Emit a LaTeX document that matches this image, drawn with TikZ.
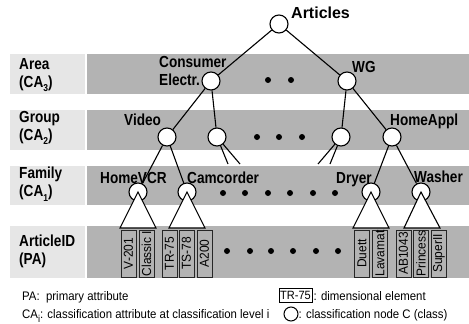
\documentclass[tikz,border=0pt]{standalone}
\usepackage{fontspec}
\setmainfont{Liberation Sans}
\newfontfamily\nfont[FakeStretch=0.85]{Liberation Sans}
\newfontfamily\mfont[FakeStretch=0.92]{Liberation Sans}
\newcommand\mysub[1]{\raisebox{-0.3em}{\fontsize{10}{10}\selectfont #1}}
\definecolor{bandgray}{HTML}{B3B3B3}
\definecolor{lblgray}{HTML}{E6E6E6}
\begin{document}
\begin{tikzpicture}[x=1pt,y=-1pt,
 cnode/.style={circle,draw,fill=white,minimum size=18pt,inner sep=0pt,line width=1.1pt},
 edge/.style={line width=1.1pt},
 lbl/.style={font=\nfont\bfseries\fontsize{16}{18}\selectfont,inner sep=0pt,anchor=base west},
 side/.style={font=\nfont\bfseries\fontsize{16}{18}\selectfont,inner sep=0pt,anchor=west,align=left},
 elem/.style={draw=black!85,fill=bandgray,rotate=90,minimum width=47pt,minimum height=15pt,inner sep=0pt,font=\mfont\fontsize{13}{14}\selectfont,line width=0.9pt},
 dot/.style={circle,fill=black,minimum size=6pt,inner sep=0pt},
 tri/.style={draw,fill=white,line width=1.1pt,line join=miter},
 foot/.style={font=\mfont\fontsize{12.4}{15}\selectfont,inner sep=0pt,anchor=base west},
 band/.style={fill=bandgray},
 lband/.style={fill=lblgray}
]
\useasboundingbox (0,0) rectangle (469,324);
% bands
\fill[lband] (10,54) rectangle (85,94);   \fill[band] (87,54) rectangle (469,94);
\fill[lband] (10,110) rectangle (85,150); \fill[band] (87,110) rectangle (469,150);
\fill[lband] (10,166) rectangle (85,205); \fill[band] (87,166) rectangle (469,205);
\fill[lband] (10,226) rectangle (85,278); \fill[band] (87,226) rectangle (469,278);
% side labels
\node[side] (la) at (19,75) {Area\\(CA\mysub{3})};
\node[side] (lg) at (19,128) {Group\\(CA\mysub{2})};
\node[side] (lf) at (19,184.5) {Family\\(CA\mysub{1})};
\node[side] (lp) at (19,251) {ArticleID\\(PA)};
% class nodes
\node[cnode] (art) at (279,24) {};
\node[cnode] (ce) at (211,81) {};
\node[cnode] (wg) at (347,81) {};
\node[cnode] (vid) at (167,137) {};
\node[cnode] (g2) at (217,137) {};
\node[cnode] (g3) at (341,137) {};
\node[cnode] (ha) at (392,137) {};
\node[cnode] (hv) at (138,192) {};
\node[cnode] (cc) at (187,192) {};
\node[cnode] (dr) at (371,192) {};
\node[cnode] (wa) at (421,192) {};
% stubs
\coordinate (s1) at (228,164); \coordinate (s2) at (240,164);
\coordinate (s3) at (318,164); \coordinate (s4) at (330,164);
% edges
\draw[edge] (art) -- (ce);
\draw[edge] (art) -- (wg);
\draw[edge] (ce) -- (vid);
\draw[edge] (ce) -- (g2);
\draw[edge] (wg) -- (g3);
\draw[edge] (wg) -- (ha);
\draw[edge] (vid) -- (hv);
\draw[edge] (vid) -- (cc);
\draw[edge] (ha) -- (dr);
\draw[edge] (ha) -- (wa);
\draw[edge] (g2) -- (s1);
\draw[edge] (g2) -- (s2);
\draw[edge] (g3) -- (s3);
\draw[edge] (g3) -- (s4);
% triangles
\coordinate (hvL) at (120,228); \coordinate (hvR) at (156,228);
\coordinate (ccL) at (169,228); \coordinate (ccR) at (205,228);
\coordinate (drL) at (353,228); \coordinate (drR) at (389,228);
\coordinate (waL) at (404,228); \coordinate (waR) at (440,228);
\draw[tri] (hv.center) -- (hvL) -- (hvR) -- cycle;
\draw[tri] (cc.center) -- (ccL) -- (ccR) -- cycle;
\draw[tri] (dr.center) -- (drL) -- (drR) -- cycle;
\draw[tri] (wa.center) -- (waL) -- (waR) -- cycle;
% dimensional elements
\node[elem] (e1) at (128.5,253.5) {V-201};
\node[elem] (e2) at (146.5,253.5) {Classic I};
\node[elem] (e3) at (169.5,253.5) {TR-75};
\node[elem] (e4) at (186.5,253.5) {TS-78};
\node[elem] (e5) at (204.5,253.5) {A200};
\node[elem] (e6) at (362,253.5) {Duett};
\node[elem] (e7) at (380,253.5) {Lavamat};
\node[elem] (e8) at (403.5,253.5) {AB1043};
\node[elem] (e9) at (421,253.5) {Princess};
\node[elem] (e10) at (439,253.5) {SuperII};
% labels
\node[font=\bfseries\fontsize{16}{18}\selectfont,inner sep=0pt,anchor=base west] (tart) at (291,19) {Articles};
\node[side] (tce) at (159,71) {Consumer\\Electr.};
\node[lbl] (twg) at (352,72) {WG};
\node[lbl] (tvid) at (124,125) {Video};
\node[lbl] (tha) at (390,125) {HomeAppl};
\node[lbl] (thv) at (100,183) {HomeVCR};
\node[lbl] (tcc) at (187,183) {Camcorder};
\node[lbl] (tdr) at (336,183) {Dryer};
\node[lbl] (twa) at (414,182) {Washer};
% dots
\foreach \x [count=\i] in {268,291} \node[dot] (da\i) at (\x,80) {};
\foreach \x [count=\i] in {257,279,302} \node[dot] (dg\i) at (\x,137) {};
\foreach \x [count=\i] in {223,245,268,290,313,335} \node[dot] (df\i) at (\x,193) {};
\foreach \x [count=\i] in {227,250,271,293,316,338} \node[dot] (dp\i) at (\x,251) {};
% footer
\node[foot] (f1) at (22,300.5) {PA:\ \ primary attribute};
\node[foot] (f2) at (22,318.5) {CA\mysub{i}: classification attribute at classification level i};
\node[draw,fill=white,minimum width=33pt,minimum height=14pt,inner sep=0pt,line width=0.8pt,font=\mfont\fontsize{12}{13}\selectfont] (fb) at (295.5,295) {TR-75};
\node[foot] (f3) at (313.5,300.5) {: dimensional element};
\node[circle,draw,minimum size=14pt,inner sep=0pt,line width=1pt] (fc) at (291,314) {};
\node[foot] (f4) at (298.5,318.5) {: classification node C (class)};
\end{tikzpicture}
\end{document}
